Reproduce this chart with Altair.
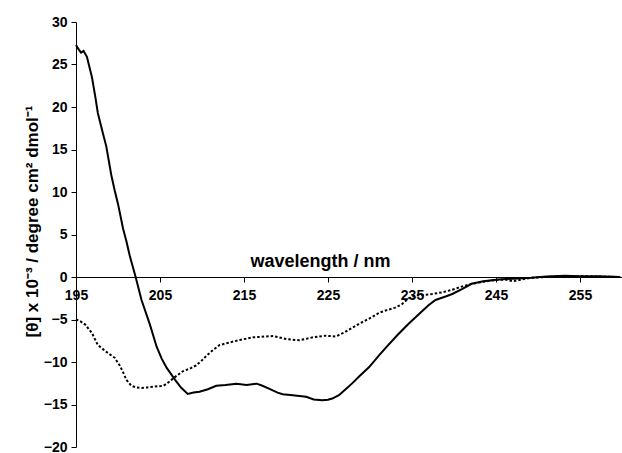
import altair as alt
import pandas as pd

# Solid trace (wavelength nm, [theta] x 10^-3)
solid_nm = [195.0, 195.3, 195.6, 195.9, 196.3, 196.9, 197.3, 197.6, 198.2, 198.6,
            199.2, 199.6, 200.0, 200.6, 201.0, 201.4, 202.1, 202.8, 203.8, 204.6,
            205.2, 205.8, 206.8, 207.5, 208.3, 209.0, 209.7, 210.7, 211.7, 212.8,
            214.1, 215.3, 216.5, 217.2, 218.1, 219.0, 219.6, 220.8, 221.6, 222.4,
            223.3, 224.3, 225.0, 225.5, 226.3, 227.1, 228.0, 228.7, 229.9, 231.1,
            232.0, 233.3, 234.6, 236.0, 237.0, 237.8, 239.0, 239.8, 241.0, 242.1,
            243.5, 245.3, 247.0, 249.2, 251.0, 253.2, 255.0, 257.2, 259.8]
solid_val = [27.3, 26.8, 26.4, 26.6, 25.9, 23.5, 21.2, 19.3, 16.9, 15.4,
             12.0, 10.2, 8.6, 5.7, 4.2, 2.5, 0.0, -2.7, -5.6, -8.2,
             -9.6, -10.7, -12.1, -13.0, -13.75, -13.6, -13.5, -13.2, -12.8, -12.7,
             -12.55, -12.7, -12.55, -12.8, -13.2, -13.6, -13.8, -13.9, -14.0, -14.1,
             -14.4, -14.5, -14.45, -14.3, -13.9, -13.2, -12.4, -11.7, -10.6, -9.2,
             -8.2, -6.8, -5.5, -4.2, -3.3, -2.7, -2.3, -2.0, -1.4, -0.8,
             -0.5, -0.3, -0.2, -0.1, 0.05, 0.15, 0.1, 0.1, 0.0]

# Dotted trace
dotted_nm = [195.0, 195.5, 196.1, 196.9, 197.6, 198.6, 199.6, 200.2, 200.6, 201.0,
             201.6, 202.2, 202.8, 203.5, 204.2, 205.4, 206.0, 206.6, 207.7, 208.5,
             209.3, 210.0, 210.5, 211.3, 212.1, 212.9, 214.5, 216.1, 217.6, 218.5,
             220.0, 221.6, 223.2, 224.7, 225.9, 227.0, 227.5, 228.7, 229.9, 231.1,
             232.0, 233.0, 233.8, 234.6, 235.4, 236.5, 237.4, 238.6, 239.8, 241.0,
             242.1, 243.5, 245.0, 246.1, 247.0, 248.0, 249.2, 251.0, 253.2, 255.0,
             257.2, 259.8]
dotted_val = [-5.0, -5.2, -5.6, -6.6, -8.0, -8.8, -9.5, -10.4, -11.2, -12.1,
              -12.8, -13.0, -13.05, -13.0, -12.9, -12.8, -12.4, -11.9, -11.1, -10.8,
              -10.4, -9.8, -9.3, -8.6, -8.0, -7.8, -7.4, -7.1, -7.0, -6.95,
              -7.3, -7.45, -7.1, -6.9, -7.0, -6.5, -6.2, -5.5, -4.9, -4.2,
              -3.9, -3.6, -3.2, -2.5, -2.2, -2.1, -2.0, -1.8, -1.5, -1.1,
              -0.8, -0.55, -0.35, -0.3, -0.5, -0.3, -0.1, 0.0, 0.1, 0.1,
              0.05, 0.0]

x_ticks = [195, 205, 215, 225, 235, 245, 255]
y_ticks = [-20, -15, -10, -5, 0, 5, 10, 15, 20, 25, 30]

solid_df = pd.DataFrame({"nm": solid_nm, "val": solid_val})
dotted_df = pd.DataFrame({"nm": dotted_nm, "val": dotted_val})

FONT = "Liberation Sans"
W, H = 546, 425

x_enc = alt.X(
    "nm:Q",
    scale=alt.Scale(domain=[195, 260], nice=False, zero=False),
    axis=alt.Axis(
        values=x_ticks, offset=-170, grid=False,
        title="wavelength / nm", titleFontSize=18, titleFont=FONT, titleFontWeight="bold",
        titleX=244, titleY=-11, titleBaseline="alphabetic", titleColor="black",
        labelFont=FONT, labelFontSize=14, labelFontWeight="bold", labelColor="black",
        labelPadding=6, tickSize=5, tickColor="black", domainColor="black",
        labelFlush=False,
    ),
)
y_enc = alt.Y(
    "val:Q",
    scale=alt.Scale(domain=[-20, 30], nice=False, zero=False),
    axis=alt.Axis(
        values=y_ticks, grid=False,
        title="[θ]  x 10⁻³ / degree cm² dmol⁻¹",
        titleFontSize=17, titleFont=FONT, titleFontWeight="bold", titleColor="black",
        titleX=-39, titleY=199, titleBaseline="alphabetic", titleAngle=270,
        labelFont=FONT, labelFontSize=14, labelFontWeight="bold", labelColor="black",
        labelPadding=4, tickSize=5, tickColor="black", domainColor="black",
    ),
)

solid = alt.Chart(solid_df).mark_line(color="black", strokeWidth=2).encode(x=x_enc, y=y_enc)
dotted = alt.Chart(dotted_df).mark_line(color="black", strokeWidth=2, strokeDash=[2.5, 2]).encode(
    x="nm:Q", y="val:Q"
)

chart = (
    alt.layer(solid, dotted)
    .properties(
        width=W, height=H,
        autosize=alt.AutoSizeParams(type="none"),
        padding={"left": 76, "top": 22, "right": 0, "bottom": 6},
        background="white",
    )
    .configure_view(stroke=None)
)

chart.save("out.html", embed_options={"renderer": "svg", "actions": False})
